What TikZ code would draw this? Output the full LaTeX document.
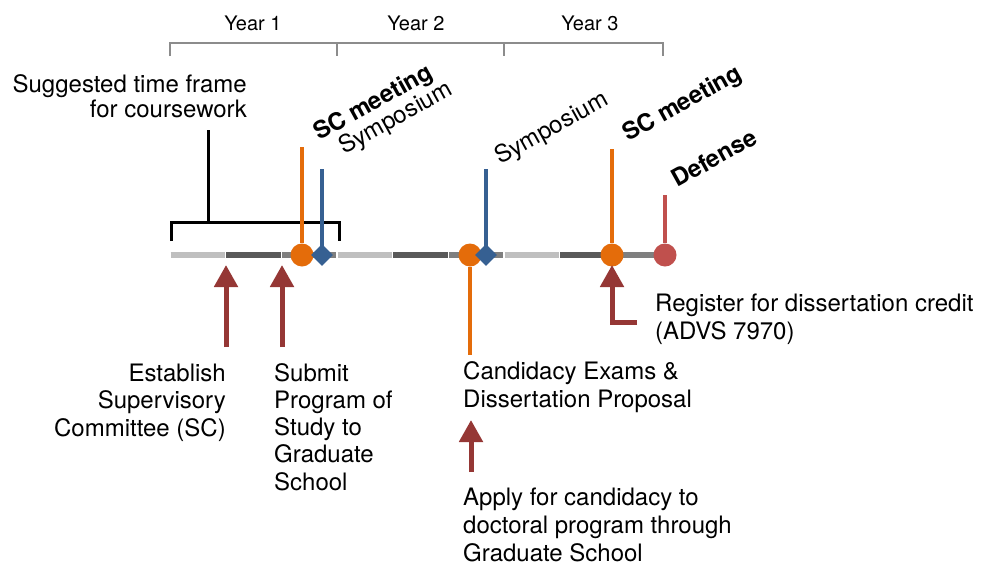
\documentclass[tikz,border=0pt]{standalone}
\usepackage{fontspec}
\setmainfont{TeX Gyre Heros}
\usepackage{xcolor}
\usepackage{tikz}
\usetikzlibrary{positioning, shapes.geometric, arrows.meta}
\definecolor{orangemark}{RGB}{228,108,10}
\definecolor{bluemark}{RGB}{54,96,146}
\definecolor{reddefense}{RGB}{192,80,77}
\definecolor{arrowred}{RGB}{149,55,53}
\definecolor{semlight}{RGB}{191,191,191}
\definecolor{semdark}{RGB}{89,89,89}
\definecolor{semmid}{RGB}{127,127,127}
\definecolor{yeargray}{RGB}{140,140,140}
\newcommand{\tlsize}{\fontsize{24}{27.2}\selectfont}

\begin{document}
\begin{tikzpicture}[x=1pt,y=-1pt]
	\tikzstyle{txt}=[inner sep=0pt, font=\tlsize]
	\tikzstyle{yeartxt}=[inner sep=0pt, font=\fontsize{20}{23}\selectfont, anchor=base]
	\tikzstyle{tilted}=[inner sep=0pt, anchor=base west, rotate=29, font=\tlsize]
	\tikzstyle{tiltedbold}=[tilted, font=\tlsize\bfseries]
	\tikzstyle{dot}=[circle, inner sep=0pt, minimum size=23pt]
	\tikzstyle{gem}=[diamond, inner sep=0pt, minimum size=22pt, fill=bluemark]
	\tikzstyle{stem}=[line width=4pt]
	\tikzstyle{uparrow}=[arrowred, line width=5pt, -{Triangle[width=23pt,length=22pt]}]
	\useasboundingbox (0,0) rectangle (981,565);

	\draw[yeargray, line width=2pt] (170,56) -- (170,42.5) -- (663,42.5) -- (663,56);
	\draw[yeargray, line width=2pt] (337,42.5) -- (337,56) (504,42.5) -- (504,56);
	\node[yeartxt] (year1) at (253,30) {Year 1};
	\node[yeartxt] (year2) at (416,30) {Year 2};
	\node[yeartxt] (year3) at (590,30) {Year 3};

	\foreach \yr in {0,1,2}
		\foreach \sem/\col in {0/semlight,1/semdark,2/semmid}
			\draw[\col, line width=6pt] ({170+167*\yr+55.6*\sem+0.7},255) -- ({170+167*\yr+55.6*(\sem+1)-0.7},255);

	\node[txt, align=right, anchor=base east, font=\fontsize{24}{25}\selectfont] (course) at (247,117) {Suggested time frame\\for coursework};
	\draw[line width=3pt] (171,241) -- (171,222) -- (339,222) -- (339,241);
	\draw[line width=3pt] (208,222) -- (208,130);

	\coordinate (scAtop) at (302,147);
	\coordinate (symAtop) at (322,169);
	\coordinate (exambot) at (470,355);
	\coordinate (symBtop) at (486,169);
	\coordinate (scBtop) at (612,149);
	\coordinate (deftop) at (665,195);

	\node[dot, fill=orangemark] (scA) at (302,255) {};
	\node[dot, fill=orangemark] (exam) at (470,255) {};
	\node[dot, fill=orangemark] (scB) at (612,255) {};
	\node[dot, fill=reddefense] (defense) at (665,255) {};
	\path
		(scA) edge[stem, orangemark] (scAtop)
		(exam) edge[stem, orangemark] (exambot)
		(scB) edge[stem, orangemark] (scBtop)
		(defense) edge[stem, reddefense] (deftop);
	\node[gem] (symA) at (322,255) {};
	\node[gem] (symB) at (486,255) {};
	\path
		(symA.center) edge[stem, bluemark] (symAtop)
		(symB.center) edge[stem, bluemark] (symBtop);

	\node[tiltedbold] (scAlabel) at (319,141) {SC meeting};
	\node[tilted] (symAlabel) at (344,155) {Symposium};
	\node[tilted] (symBlabel) at (500,165) {Symposium};
	\node[tiltedbold] (scBlabel) at (628,142) {SC meeting};
	\node[tiltedbold] (deflabel) at (677,188) {Defense};

	\coordinate (estTail) at (226,347);
	\coordinate (estTip) at (226,265);
	\coordinate (posTail) at (282,347);
	\coordinate (posTip) at (282,265);
	\coordinate (applyTail) at (471,472);
	\coordinate (applyTip) at (471,420);
	\coordinate (regTail) at (637,322);
	\coordinate (regTip) at (612,265);
	\path
		(estTail) edge[uparrow] (estTip)
		(posTail) edge[uparrow] (posTip)
		(applyTail) edge[uparrow] (applyTip);
	\draw[uparrow] (regTail) -| (regTip);

	\node[txt, align=right, anchor=base east] (establish) at (226,436) {Establish\\Supervisory\\Committee (SC)};
	\node[txt, align=left, anchor=base west] (program) at (274,490) {Submit\\Program of\\Study to\\Graduate\\School};
	\node[txt, align=left, anchor=base west] (exams) at (463,407) {Candidacy Exams \&\\Dissertation Proposal};
	\node[txt, align=left, anchor=base west, font=\fontsize{24}{27.6}\selectfont] (apply) at (463,561) {Apply for candidacy to\\doctoral program through\\Graduate School};
	\node[txt, align=left, anchor=base west, font=\fontsize{24}{28}\selectfont] (register) at (655,339) {Register for dissertation credit\\(ADVS 7970)};
\end{tikzpicture}
\end{document}
